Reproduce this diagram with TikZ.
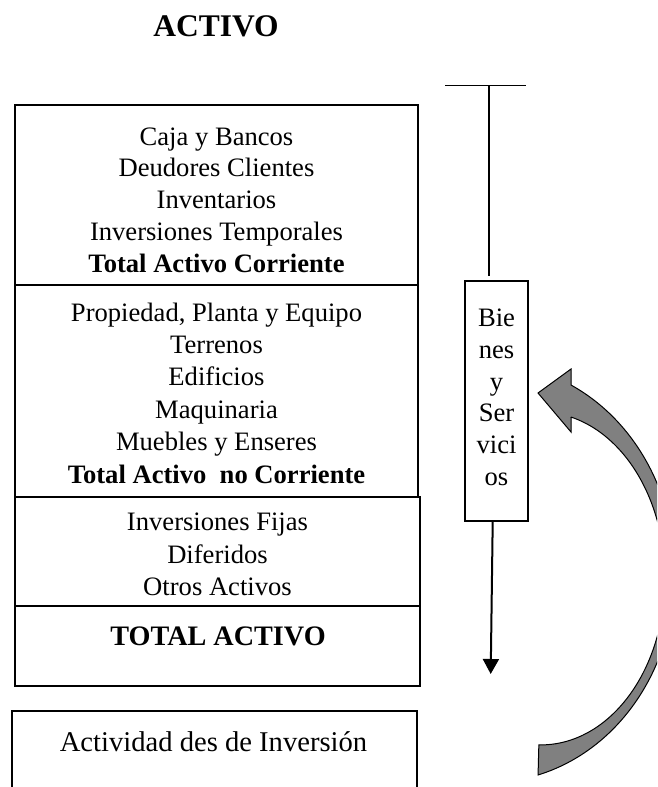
\documentclass[tikz,border=0pt]{standalone}
\usepackage{fontspec}
\setmainfont{Liberation Serif}
\usetikzlibrary{arrows.meta}
\definecolor{arrowgray}{RGB}{128,128,128}
\begin{document}
\begin{tikzpicture}[x=1pt,y=-1pt,
  box/.style={draw,line width=1.8pt},
  txt/.style={anchor=base,inner sep=0pt,font=\fontsize{26.6}{31}\selectfont},
  btxt/.style={anchor=base,inner sep=0pt,font=\fontsize{26.6}{31}\selectfont\bfseries},
]
\useasboundingbox (0,0) rectangle (657,787);
\clip (0,0) rectangle (657,787);

% title
\node[anchor=base,inner sep=0pt,font=\fontsize{31.5}{36}\selectfont\bfseries] (title) at (216,36) {ACTIVO};

% stacked boxes
\draw[box] (15,105) rectangle (418,285);
\draw[box] (15,285) rectangle (418,497);
\draw[box] (15,497) rectangle (420,606);
\draw[box] (15,606) rectangle (420,686);
\draw[box] (12,795) -- (12,711) -- (417,711) -- (417,795);

% box 1
\node[txt]  (a1) at (216.5,145)    {Caja y Bancos};
\node[txt]  (a2) at (216.5,176.75) {Deudores Clientes};
\node[txt]  (a3) at (216.5,208.5)  {Inventarios};
\node[txt]  (a4) at (216.5,240.25) {Inversiones Temporales};
\node[btxt] (a5) at (216.5,272)    {Total Activo Corriente};

% box 2
\node[txt]  (b1) at (216.5,321)   {Propiedad, Planta y Equipo};
\node[txt]  (b2) at (216.5,353.4) {Terrenos};
\node[txt]  (b3) at (216.5,385.8) {Edificios};
\node[txt]  (b4) at (216.5,418.2) {Maquinaria};
\node[txt]  (b5) at (216.5,450.6) {Muebles y Enseres};
\node[btxt] (b6) at (216.5,483)   {Total Activo\ \ no Corriente};

% box 3
\node[txt] (c1) at (217.5,530.5) {Inversiones Fijas};
\node[txt] (c2) at (217.5,563)   {Diferidos};
\node[txt] (c3) at (217.5,595.5) {Otros Activos};

% box 4
\node[anchor=base,inner sep=0pt,font=\fontsize{28.2}{33}\selectfont\bfseries] (tot) at (218,645) {TOTAL ACTIVO};

% box 5
\node[anchor=base,inner sep=0pt,font=\fontsize{28.6}{33}\selectfont] (act) at (213.5,751) {Actividad des de Inversión};

% T line
\coordinate (tl) at (445,85.7);
\coordinate (tr) at (525.7,85.7);
\coordinate (tm) at (489,85.7);
\coordinate (tb) at (489,275.7);
\draw[line width=1.2pt] (tl) -- (tr);
\draw[line width=1.2pt] (tm) -- (tb);

% Bienes y Servicios box
\node[draw,line width=1.6pt,minimum width=63pt,minimum height=240pt,inner sep=0pt] (bienes) at (496.5,401) {};
\node[txt] (s1) at (496.5,326)   {Bie};
\node[txt] (s2) at (496.5,358)   {nes};
\node[txt] (s3) at (496.5,390)   {y};
\node[txt] (s4) at (496.5,421.5) {Ser};
\node[txt] (s5) at (496.5,453)   {vici};
\node[txt] (s6) at (496.5,485)   {os};

% down arrow
\coordinate (dtip) at (490.7,674);
\draw[line width=2pt,-{Triangle[width=16pt,length=15pt]}] ([xshift=-3.8pt]bienes.south) -- (dtip);

% curved block arrow
\draw[fill=arrowgray,draw=black,line width=1pt,line join=miter]
  plot[domain=-74.8:63.9,samples=90] ({489.4+185.6*cos(\x)},{573-209.3*sin(\x)})
  -- (571,369) -- (538,393) -- (571,432) -- (571,417)
  -- plot[domain=-76:91,samples=90] ({541+124*cos(\x)},{578.5+166.4*sin(\x)})
  -- cycle;
\end{tikzpicture}
\end{document}
